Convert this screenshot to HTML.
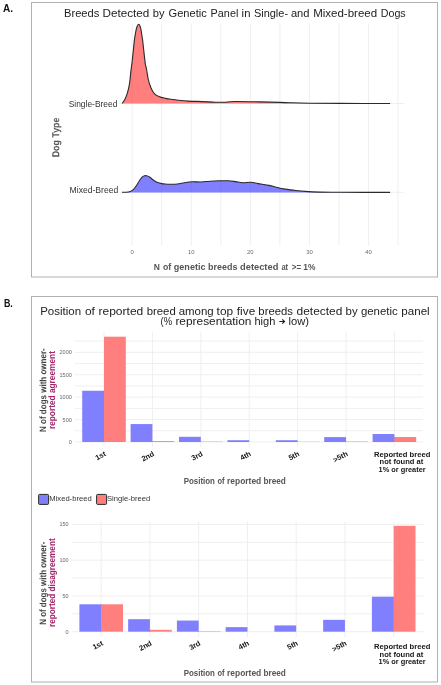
<!DOCTYPE html>
<html><head><meta charset="utf-8"><style>
html,body{margin:0;padding:0;background:#fff;width:441px;height:685px;overflow:hidden}
svg{display:block;font-family:"Liberation Sans",sans-serif;will-change:transform}
</style></head><body>
<svg width="441" height="685" viewBox="0 0 441 685">
<rect x="0" y="0" width="441" height="685" fill="#fff"/>
<text x="3.00" y="11.90" font-size="11.30" font-weight="bold" fill="#111" text-anchor="start" textLength="10.00" lengthAdjust="spacingAndGlyphs">A.</text>
<rect x="31.50" y="2.50" width="406.00" height="274.50" fill="none" stroke="#b0b0b0" stroke-width="1.00"/>
<text x="63.98" y="16.90" font-size="10.80" font-weight="normal" fill="#222" textLength="35.42" lengthAdjust="spacingAndGlyphs">Breeds</text>
<text x="102.44" y="16.90" font-size="10.80" font-weight="normal" fill="#222" textLength="46.81" lengthAdjust="spacingAndGlyphs">Detected</text>
<text x="152.78" y="16.90" font-size="10.80" font-weight="normal" fill="#222" textLength="11.74" lengthAdjust="spacingAndGlyphs">by</text>
<text x="168.54" y="16.90" font-size="10.80" font-weight="normal" fill="#222" textLength="38.25" lengthAdjust="spacingAndGlyphs">Genetic</text>
<text x="210.61" y="16.90" font-size="10.80" font-weight="normal" fill="#222" textLength="27.71" lengthAdjust="spacingAndGlyphs">Panel</text>
<text x="241.64" y="16.90" font-size="10.80" font-weight="normal" fill="#222" textLength="8.79" lengthAdjust="spacingAndGlyphs">in</text>
<text x="253.90" y="16.90" font-size="10.80" font-weight="normal" fill="#222" textLength="34.19" lengthAdjust="spacingAndGlyphs">Single-</text>
<text x="290.93" y="16.90" font-size="10.80" font-weight="normal" fill="#222" textLength="18.59" lengthAdjust="spacingAndGlyphs">and</text>
<text x="313.16" y="16.90" font-size="10.80" font-weight="normal" fill="#222" textLength="63.99" lengthAdjust="spacingAndGlyphs">Mixed-breed</text>
<text x="380.72" y="16.90" font-size="10.80" font-weight="normal" fill="#222" textLength="24.96" lengthAdjust="spacingAndGlyphs">Dogs</text>
<line x1="132.20" y1="23.50" x2="132.20" y2="245.50" stroke="#efefef" stroke-width="1.00"/>
<line x1="161.73" y1="23.50" x2="161.73" y2="245.50" stroke="#efefef" stroke-width="1.00"/>
<line x1="191.27" y1="23.50" x2="191.27" y2="245.50" stroke="#efefef" stroke-width="1.00"/>
<line x1="220.81" y1="23.50" x2="220.81" y2="245.50" stroke="#efefef" stroke-width="1.00"/>
<line x1="250.34" y1="23.50" x2="250.34" y2="245.50" stroke="#efefef" stroke-width="1.00"/>
<line x1="279.88" y1="23.50" x2="279.88" y2="245.50" stroke="#efefef" stroke-width="1.00"/>
<line x1="309.41" y1="23.50" x2="309.41" y2="245.50" stroke="#efefef" stroke-width="1.00"/>
<line x1="338.94" y1="23.50" x2="338.94" y2="245.50" stroke="#efefef" stroke-width="1.00"/>
<line x1="368.48" y1="23.50" x2="368.48" y2="245.50" stroke="#efefef" stroke-width="1.00"/>
<line x1="398.01" y1="23.50" x2="398.01" y2="245.50" stroke="#efefef" stroke-width="1.00"/>
<line x1="119.50" y1="103.50" x2="404.00" y2="103.50" stroke="#efefef" stroke-width="1.00"/>
<line x1="119.50" y1="192.30" x2="404.00" y2="192.30" stroke="#efefef" stroke-width="1.00"/>
<path d="M122.10,103.40 C122.55,102.75 123.90,101.28 124.80,99.50 C125.70,97.72 126.70,95.43 127.50,92.70 C128.30,89.97 129.03,86.73 129.60,83.10 C130.17,79.47 130.53,74.02 130.90,70.90 C131.27,67.78 131.53,66.53 131.80,64.40 C132.07,62.27 132.23,60.52 132.50,58.10 C132.77,55.68 133.10,52.77 133.40,49.90 C133.70,47.03 133.97,43.62 134.30,40.90 C134.63,38.18 134.98,35.87 135.40,33.60 C135.82,31.33 136.25,28.85 136.80,27.30 C137.35,25.75 138.08,24.30 138.70,24.30 C139.32,24.30 140.02,25.75 140.50,27.30 C140.98,28.85 141.23,31.33 141.60,33.60 C141.97,35.87 142.35,38.18 142.70,40.90 C143.05,43.62 143.38,47.03 143.70,49.90 C144.02,52.77 144.32,55.68 144.60,58.10 C144.88,60.52 145.07,62.50 145.40,64.40 C145.73,66.30 146.13,67.07 146.60,69.50 C147.07,71.93 147.52,76.05 148.20,79.00 C148.88,81.95 149.72,84.82 150.70,87.20 C151.68,89.58 152.75,91.75 154.10,93.30 C155.45,94.85 156.88,95.65 158.80,96.50 C160.72,97.35 163.33,97.90 165.60,98.40 C167.87,98.90 170.33,99.20 172.40,99.50 C174.47,99.80 175.30,99.93 178.00,100.20 C180.70,100.47 184.57,100.87 188.60,101.10 C192.63,101.33 197.67,101.42 202.20,101.60 C206.73,101.78 212.17,102.10 215.80,102.20 C219.43,102.30 220.80,102.32 224.00,102.20 C227.20,102.08 229.00,101.55 235.00,101.50 C241.00,101.45 252.50,101.75 260.00,101.90 C267.50,102.05 275.00,102.25 280.00,102.40 C285.00,102.55 285.00,102.67 290.00,102.80 C295.00,102.93 301.67,103.10 310.00,103.20 C318.33,103.30 326.65,103.35 340.00,103.40 C353.35,103.45 381.75,103.48 390.10,103.50 L390.1,103.60 L122,103.60 Z" fill="#ff0000" fill-opacity="0.5" stroke="none"/>
<path d="M122.10,103.40 C122.55,102.75 123.90,101.28 124.80,99.50 C125.70,97.72 126.70,95.43 127.50,92.70 C128.30,89.97 129.03,86.73 129.60,83.10 C130.17,79.47 130.53,74.02 130.90,70.90 C131.27,67.78 131.53,66.53 131.80,64.40 C132.07,62.27 132.23,60.52 132.50,58.10 C132.77,55.68 133.10,52.77 133.40,49.90 C133.70,47.03 133.97,43.62 134.30,40.90 C134.63,38.18 134.98,35.87 135.40,33.60 C135.82,31.33 136.25,28.85 136.80,27.30 C137.35,25.75 138.08,24.30 138.70,24.30 C139.32,24.30 140.02,25.75 140.50,27.30 C140.98,28.85 141.23,31.33 141.60,33.60 C141.97,35.87 142.35,38.18 142.70,40.90 C143.05,43.62 143.38,47.03 143.70,49.90 C144.02,52.77 144.32,55.68 144.60,58.10 C144.88,60.52 145.07,62.50 145.40,64.40 C145.73,66.30 146.13,67.07 146.60,69.50 C147.07,71.93 147.52,76.05 148.20,79.00 C148.88,81.95 149.72,84.82 150.70,87.20 C151.68,89.58 152.75,91.75 154.10,93.30 C155.45,94.85 156.88,95.65 158.80,96.50 C160.72,97.35 163.33,97.90 165.60,98.40 C167.87,98.90 170.33,99.20 172.40,99.50 C174.47,99.80 175.30,99.93 178.00,100.20 C180.70,100.47 184.57,100.87 188.60,101.10 C192.63,101.33 197.67,101.42 202.20,101.60 C206.73,101.78 212.17,102.10 215.80,102.20 C219.43,102.30 220.80,102.32 224.00,102.20 C227.20,102.08 229.00,101.55 235.00,101.50 C241.00,101.45 252.50,101.75 260.00,101.90 C267.50,102.05 275.00,102.25 280.00,102.40 C285.00,102.55 285.00,102.67 290.00,102.80 C295.00,102.93 301.67,103.10 310.00,103.20 C318.33,103.30 326.65,103.35 340.00,103.40 C353.35,103.45 381.75,103.48 390.10,103.50" fill="none" stroke="#2a2a2a" stroke-width="1.1"/>
<path d="M122.00,192.30 C122.68,192.28 124.73,192.35 126.10,192.20 C127.47,192.05 129.00,191.83 130.20,191.40 C131.40,190.97 132.28,190.53 133.30,189.60 C134.32,188.67 135.28,187.28 136.30,185.80 C137.32,184.32 138.47,182.12 139.40,180.70 C140.33,179.28 141.05,178.12 141.90,177.30 C142.75,176.48 143.73,176.07 144.50,175.80 C145.27,175.53 145.73,175.57 146.50,175.70 C147.27,175.83 148.25,176.10 149.10,176.60 C149.95,177.10 150.67,177.97 151.60,178.70 C152.53,179.43 153.67,180.35 154.70,181.00 C155.73,181.65 156.62,182.17 157.80,182.60 C158.98,183.03 160.60,183.37 161.80,183.60 C163.00,183.83 163.63,183.90 165.00,184.00 C166.37,184.10 167.95,184.20 170.00,184.20 C172.05,184.20 174.88,184.25 177.30,184.00 C179.72,183.75 182.08,183.07 184.50,182.70 C186.92,182.33 189.07,181.92 191.80,181.80 C194.53,181.68 197.88,182.10 200.90,182.00 C203.92,181.90 206.88,181.40 209.90,181.20 C212.92,181.00 215.97,180.87 219.00,180.80 C222.03,180.73 225.38,180.67 228.10,180.80 C230.82,180.93 232.88,181.28 235.30,181.60 C237.72,181.92 240.00,182.58 242.60,182.70 C245.20,182.82 248.32,182.15 250.90,182.30 C253.48,182.45 255.08,183.08 258.10,183.60 C261.12,184.12 265.97,184.80 269.00,185.40 C272.03,186.00 273.87,186.62 276.30,187.20 C278.73,187.78 280.58,188.38 283.60,188.90 C286.62,189.42 290.78,189.88 294.40,190.30 C298.02,190.72 301.03,191.10 305.30,191.40 C309.57,191.70 314.22,191.95 320.00,192.10 C325.78,192.25 328.32,192.25 340.00,192.30 C351.68,192.35 381.75,192.38 390.10,192.40 L390.1,192.50 L122,192.50 Z" fill="#0000ff" fill-opacity="0.5" stroke="none"/>
<path d="M122.00,192.30 C122.68,192.28 124.73,192.35 126.10,192.20 C127.47,192.05 129.00,191.83 130.20,191.40 C131.40,190.97 132.28,190.53 133.30,189.60 C134.32,188.67 135.28,187.28 136.30,185.80 C137.32,184.32 138.47,182.12 139.40,180.70 C140.33,179.28 141.05,178.12 141.90,177.30 C142.75,176.48 143.73,176.07 144.50,175.80 C145.27,175.53 145.73,175.57 146.50,175.70 C147.27,175.83 148.25,176.10 149.10,176.60 C149.95,177.10 150.67,177.97 151.60,178.70 C152.53,179.43 153.67,180.35 154.70,181.00 C155.73,181.65 156.62,182.17 157.80,182.60 C158.98,183.03 160.60,183.37 161.80,183.60 C163.00,183.83 163.63,183.90 165.00,184.00 C166.37,184.10 167.95,184.20 170.00,184.20 C172.05,184.20 174.88,184.25 177.30,184.00 C179.72,183.75 182.08,183.07 184.50,182.70 C186.92,182.33 189.07,181.92 191.80,181.80 C194.53,181.68 197.88,182.10 200.90,182.00 C203.92,181.90 206.88,181.40 209.90,181.20 C212.92,181.00 215.97,180.87 219.00,180.80 C222.03,180.73 225.38,180.67 228.10,180.80 C230.82,180.93 232.88,181.28 235.30,181.60 C237.72,181.92 240.00,182.58 242.60,182.70 C245.20,182.82 248.32,182.15 250.90,182.30 C253.48,182.45 255.08,183.08 258.10,183.60 C261.12,184.12 265.97,184.80 269.00,185.40 C272.03,186.00 273.87,186.62 276.30,187.20 C278.73,187.78 280.58,188.38 283.60,188.90 C286.62,189.42 290.78,189.88 294.40,190.30 C298.02,190.72 301.03,191.10 305.30,191.40 C309.57,191.70 314.22,191.95 320.00,192.10 C325.78,192.25 328.32,192.25 340.00,192.30 C351.68,192.35 381.75,192.38 390.10,192.40" fill="none" stroke="#2a2a2a" stroke-width="1.1"/>
<text x="68.72" y="106.90" font-size="9.00" font-weight="normal" fill="#333" textLength="48.62" lengthAdjust="spacingAndGlyphs">Single-Breed</text>
<text x="69.60" y="192.90" font-size="8.80" font-weight="normal" fill="#333" textLength="48.66" lengthAdjust="spacingAndGlyphs">Mixed-Breed</text>
<text x="0" y="0" font-size="10.20" font-weight="bold" fill="#555" textLength="39.68" lengthAdjust="spacingAndGlyphs" transform="translate(59.20,157.28) rotate(-89.9)">Dog Type</text>
<text x="132.20" y="254.10" font-size="5.90" font-weight="normal" fill="#6a6a6a" text-anchor="middle">0</text>
<text x="191.27" y="254.10" font-size="5.90" font-weight="normal" fill="#6a6a6a" text-anchor="middle">10</text>
<text x="250.34" y="254.10" font-size="5.90" font-weight="normal" fill="#6a6a6a" text-anchor="middle">20</text>
<text x="309.41" y="254.10" font-size="5.90" font-weight="normal" fill="#6a6a6a" text-anchor="middle">30</text>
<text x="368.48" y="254.10" font-size="5.90" font-weight="normal" fill="#6a6a6a" text-anchor="middle">40</text>
<text x="153.83" y="269.50" font-size="9.60" font-weight="bold" fill="#555" textLength="6.14" lengthAdjust="spacingAndGlyphs">N</text>
<text x="162.96" y="269.50" font-size="9.60" font-weight="bold" fill="#555" textLength="8.22" lengthAdjust="spacingAndGlyphs">of</text>
<text x="173.83" y="269.50" font-size="9.60" font-weight="bold" fill="#555" textLength="31.64" lengthAdjust="spacingAndGlyphs">genetic</text>
<text x="208.11" y="269.50" font-size="9.60" font-weight="bold" fill="#555" textLength="29.25" lengthAdjust="spacingAndGlyphs">breeds</text>
<text x="240.12" y="269.50" font-size="9.60" font-weight="bold" fill="#555" textLength="38.19" lengthAdjust="spacingAndGlyphs">detected</text>
<text x="281.38" y="269.50" font-size="9.60" font-weight="bold" fill="#555" textLength="6.71" lengthAdjust="spacingAndGlyphs">at</text>
<text x="291.86" y="269.50" font-size="9.60" font-weight="bold" fill="#555" textLength="9.37" lengthAdjust="spacingAndGlyphs">&gt;=</text>
<text x="303.37" y="269.50" font-size="9.60" font-weight="bold" fill="#555" textLength="12.15" lengthAdjust="spacingAndGlyphs">1%</text>
<text x="3.90" y="306.50" font-size="11.00" font-weight="bold" fill="#111" text-anchor="start" textLength="8.90" lengthAdjust="spacingAndGlyphs">B.</text>
<rect x="31.50" y="296.50" width="406.00" height="385.50" fill="none" stroke="#b0b0b0" stroke-width="1.00"/>
<text x="40.15" y="314.70" font-size="10.40" font-weight="normal" fill="#222" textLength="40.99" lengthAdjust="spacingAndGlyphs">Position</text>
<text x="84.90" y="314.70" font-size="10.40" font-weight="normal" fill="#222" textLength="9.99" lengthAdjust="spacingAndGlyphs">of</text>
<text x="98.50" y="314.70" font-size="10.40" font-weight="normal" fill="#222" textLength="44.77" lengthAdjust="spacingAndGlyphs">reported</text>
<text x="146.67" y="314.70" font-size="10.40" font-weight="normal" fill="#222" textLength="29.06" lengthAdjust="spacingAndGlyphs">breed</text>
<text x="178.71" y="314.70" font-size="10.40" font-weight="normal" fill="#222" textLength="35.02" lengthAdjust="spacingAndGlyphs">among</text>
<text x="216.62" y="314.70" font-size="10.40" font-weight="normal" fill="#222" textLength="16.48" lengthAdjust="spacingAndGlyphs">top</text>
<text x="236.83" y="314.70" font-size="10.40" font-weight="normal" fill="#222" textLength="18.39" lengthAdjust="spacingAndGlyphs">five</text>
<text x="258.37" y="314.70" font-size="10.40" font-weight="normal" fill="#222" textLength="34.54" lengthAdjust="spacingAndGlyphs">breeds</text>
<text x="296.60" y="314.70" font-size="10.40" font-weight="normal" fill="#222" textLength="45.77" lengthAdjust="spacingAndGlyphs">detected</text>
<text x="345.56" y="314.70" font-size="10.40" font-weight="normal" fill="#222" textLength="12.06" lengthAdjust="spacingAndGlyphs">by</text>
<text x="360.92" y="314.70" font-size="10.40" font-weight="normal" fill="#222" textLength="36.83" lengthAdjust="spacingAndGlyphs">genetic</text>
<text x="401.35" y="314.70" font-size="10.40" font-weight="normal" fill="#222" textLength="28.32" lengthAdjust="spacingAndGlyphs">panel</text>
<text x="160.62" y="325.20" font-size="10.40" font-weight="normal" fill="#222" textLength="11.52" lengthAdjust="spacingAndGlyphs">(%</text>
<text x="175.41" y="325.20" font-size="10.40" font-weight="normal" fill="#222" textLength="76.06" lengthAdjust="spacingAndGlyphs">representation</text>
<text x="254.43" y="325.20" font-size="10.40" font-weight="normal" fill="#222" textLength="20.88" lengthAdjust="spacingAndGlyphs">high</text>
<text x="288.54" y="325.20" font-size="10.40" font-weight="normal" fill="#222" textLength="20.55" lengthAdjust="spacingAndGlyphs">low)</text>
<path d="M279.3,321.5 H284.4 M282.3,319.3 L284.5,321.5 L282.3,323.7" fill="none" stroke="#222" stroke-width="1.2"/>
<line x1="74.70" y1="442.00" x2="423.00" y2="442.00" stroke="#efefef" stroke-width="1.00"/>
<line x1="74.70" y1="430.79" x2="423.00" y2="430.79" stroke="#efefef" stroke-width="1.00"/>
<line x1="74.70" y1="419.57" x2="423.00" y2="419.57" stroke="#efefef" stroke-width="1.00"/>
<line x1="74.70" y1="408.36" x2="423.00" y2="408.36" stroke="#efefef" stroke-width="1.00"/>
<line x1="74.70" y1="397.15" x2="423.00" y2="397.15" stroke="#efefef" stroke-width="1.00"/>
<line x1="74.70" y1="385.94" x2="423.00" y2="385.94" stroke="#efefef" stroke-width="1.00"/>
<line x1="74.70" y1="374.73" x2="423.00" y2="374.73" stroke="#efefef" stroke-width="1.00"/>
<line x1="74.70" y1="363.51" x2="423.00" y2="363.51" stroke="#efefef" stroke-width="1.00"/>
<line x1="74.70" y1="352.30" x2="423.00" y2="352.30" stroke="#efefef" stroke-width="1.00"/>
<line x1="74.70" y1="341.09" x2="423.00" y2="341.09" stroke="#efefef" stroke-width="1.00"/>
<line x1="104.00" y1="331.40" x2="104.00" y2="447.00" stroke="#efefef" stroke-width="1.00"/>
<line x1="152.40" y1="331.40" x2="152.40" y2="447.00" stroke="#efefef" stroke-width="1.00"/>
<line x1="200.80" y1="331.40" x2="200.80" y2="447.00" stroke="#efefef" stroke-width="1.00"/>
<line x1="249.20" y1="331.40" x2="249.20" y2="447.00" stroke="#efefef" stroke-width="1.00"/>
<line x1="297.60" y1="331.40" x2="297.60" y2="447.00" stroke="#efefef" stroke-width="1.00"/>
<line x1="346.00" y1="331.40" x2="346.00" y2="447.00" stroke="#efefef" stroke-width="1.00"/>
<line x1="394.40" y1="331.40" x2="394.40" y2="447.00" stroke="#efefef" stroke-width="1.00"/>
<rect x="82.20" y="390.74" width="21.80" height="51.26" fill="#8080ff"/>
<rect x="103.50" y="390.74" width="1.00" height="51.26" fill="#8080ff"/>
<rect x="104.00" y="336.69" width="21.80" height="105.31" fill="#ff7f7f"/>
<rect x="130.60" y="424.06" width="21.80" height="17.94" fill="#8080ff"/>
<rect x="151.90" y="441.10" width="1.00" height="0.90" fill="#8080ff"/>
<rect x="152.40" y="441.10" width="21.80" height="0.90" fill="#ff7f7f"/>
<rect x="179.00" y="436.80" width="21.80" height="5.20" fill="#8080ff"/>
<rect x="200.30" y="441.64" width="1.00" height="0.36" fill="#8080ff"/>
<rect x="200.80" y="441.64" width="21.80" height="0.36" fill="#ff7f7f"/>
<rect x="227.40" y="440.21" width="21.80" height="1.79" fill="#8080ff"/>
<rect x="275.80" y="440.21" width="21.80" height="1.79" fill="#8080ff"/>
<rect x="297.10" y="441.78" width="1.00" height="0.22" fill="#8080ff"/>
<rect x="297.60" y="441.78" width="21.80" height="0.22" fill="#ff7f7f"/>
<rect x="324.20" y="437.11" width="21.80" height="4.89" fill="#8080ff"/>
<rect x="345.50" y="441.55" width="1.00" height="0.45" fill="#8080ff"/>
<rect x="346.00" y="441.55" width="21.80" height="0.45" fill="#ff7f7f"/>
<rect x="372.60" y="434.02" width="21.80" height="7.98" fill="#8080ff"/>
<rect x="393.90" y="437.02" width="1.00" height="4.98" fill="#8080ff"/>
<rect x="394.40" y="437.02" width="21.80" height="4.98" fill="#ff7f7f"/>
<text x="71.80" y="444.00" font-size="5.50" font-weight="normal" fill="#666" text-anchor="end">0</text>
<text x="71.80" y="421.57" font-size="5.50" font-weight="normal" fill="#666" text-anchor="end">500</text>
<text x="71.80" y="399.15" font-size="5.50" font-weight="normal" fill="#666" text-anchor="end">1000</text>
<text x="71.80" y="376.73" font-size="5.50" font-weight="normal" fill="#666" text-anchor="end">1500</text>
<text x="71.80" y="354.30" font-size="5.50" font-weight="normal" fill="#666" text-anchor="end">2000</text>
<text x="0" y="0" font-size="7.4" font-weight="bold" fill="#111" text-anchor="end" transform="translate(106.40,455.40) rotate(-28)">1st</text>
<text x="0" y="0" font-size="7.4" font-weight="bold" fill="#111" text-anchor="end" transform="translate(154.80,455.40) rotate(-28)">2nd</text>
<text x="0" y="0" font-size="7.4" font-weight="bold" fill="#111" text-anchor="end" transform="translate(203.20,455.40) rotate(-28)">3rd</text>
<text x="0" y="0" font-size="7.4" font-weight="bold" fill="#111" text-anchor="end" transform="translate(251.60,455.40) rotate(-28)">4th</text>
<text x="0" y="0" font-size="7.4" font-weight="bold" fill="#111" text-anchor="end" transform="translate(300.00,455.40) rotate(-28)">5th</text>
<text x="0" y="0" font-size="7.4" font-weight="bold" fill="#111" text-anchor="end" transform="translate(348.40,455.40) rotate(-28)">&gt;5th</text>
<line x1="71.60" y1="631.70" x2="423.30" y2="631.70" stroke="#efefef" stroke-width="1.00"/>
<line x1="71.60" y1="613.82" x2="423.30" y2="613.82" stroke="#efefef" stroke-width="1.00"/>
<line x1="71.60" y1="595.94" x2="423.30" y2="595.94" stroke="#efefef" stroke-width="1.00"/>
<line x1="71.60" y1="578.05" x2="423.30" y2="578.05" stroke="#efefef" stroke-width="1.00"/>
<line x1="71.60" y1="560.17" x2="423.30" y2="560.17" stroke="#efefef" stroke-width="1.00"/>
<line x1="71.60" y1="542.29" x2="423.30" y2="542.29" stroke="#efefef" stroke-width="1.00"/>
<line x1="71.60" y1="524.41" x2="423.30" y2="524.41" stroke="#efefef" stroke-width="1.00"/>
<line x1="101.20" y1="521.40" x2="101.20" y2="637.00" stroke="#efefef" stroke-width="1.00"/>
<line x1="149.95" y1="521.40" x2="149.95" y2="637.00" stroke="#efefef" stroke-width="1.00"/>
<line x1="198.70" y1="521.40" x2="198.70" y2="637.00" stroke="#efefef" stroke-width="1.00"/>
<line x1="247.45" y1="521.40" x2="247.45" y2="637.00" stroke="#efefef" stroke-width="1.00"/>
<line x1="296.20" y1="521.40" x2="296.20" y2="637.00" stroke="#efefef" stroke-width="1.00"/>
<line x1="344.95" y1="521.40" x2="344.95" y2="637.00" stroke="#efefef" stroke-width="1.00"/>
<line x1="393.70" y1="521.40" x2="393.70" y2="637.00" stroke="#efefef" stroke-width="1.00"/>
<rect x="79.40" y="604.30" width="21.80" height="27.40" fill="#8080ff"/>
<rect x="100.70" y="604.30" width="1.00" height="27.40" fill="#8080ff"/>
<rect x="101.20" y="604.30" width="21.80" height="27.40" fill="#ff7f7f"/>
<rect x="128.15" y="619.18" width="21.80" height="12.52" fill="#8080ff"/>
<rect x="149.45" y="629.84" width="1.00" height="1.86" fill="#8080ff"/>
<rect x="149.95" y="629.84" width="21.80" height="1.86" fill="#ff7f7f"/>
<rect x="176.90" y="620.54" width="21.80" height="11.16" fill="#8080ff"/>
<rect x="198.20" y="631.27" width="1.00" height="0.43" fill="#8080ff"/>
<rect x="198.70" y="631.27" width="21.80" height="0.43" fill="#ff7f7f"/>
<rect x="225.65" y="627.12" width="21.80" height="4.58" fill="#8080ff"/>
<rect x="274.40" y="625.41" width="21.80" height="6.29" fill="#8080ff"/>
<rect x="323.15" y="619.83" width="21.80" height="11.87" fill="#8080ff"/>
<rect x="371.90" y="596.72" width="21.80" height="34.98" fill="#8080ff"/>
<rect x="393.20" y="596.72" width="1.00" height="34.98" fill="#8080ff"/>
<rect x="393.70" y="525.84" width="21.80" height="105.86" fill="#ff7f7f"/>
<text x="68.60" y="633.70" font-size="5.50" font-weight="normal" fill="#666" text-anchor="end">0</text>
<text x="68.60" y="597.94" font-size="5.50" font-weight="normal" fill="#666" text-anchor="end">50</text>
<text x="68.60" y="562.17" font-size="5.50" font-weight="normal" fill="#666" text-anchor="end">100</text>
<text x="68.60" y="526.41" font-size="5.50" font-weight="normal" fill="#666" text-anchor="end">150</text>
<text x="0" y="0" font-size="7.4" font-weight="bold" fill="#111" text-anchor="end" transform="translate(103.60,644.80) rotate(-28)">1st</text>
<text x="0" y="0" font-size="7.4" font-weight="bold" fill="#111" text-anchor="end" transform="translate(152.35,644.80) rotate(-28)">2nd</text>
<text x="0" y="0" font-size="7.4" font-weight="bold" fill="#111" text-anchor="end" transform="translate(201.10,644.80) rotate(-28)">3rd</text>
<text x="0" y="0" font-size="7.4" font-weight="bold" fill="#111" text-anchor="end" transform="translate(249.85,644.80) rotate(-28)">4th</text>
<text x="0" y="0" font-size="7.4" font-weight="bold" fill="#111" text-anchor="end" transform="translate(298.60,644.80) rotate(-28)">5th</text>
<text x="0" y="0" font-size="7.4" font-weight="bold" fill="#111" text-anchor="end" transform="translate(347.35,644.80) rotate(-28)">&gt;5th</text>
<text x="373.99" y="456.80" font-size="7.20" font-weight="bold" fill="#161616" textLength="56.31" lengthAdjust="spacingAndGlyphs">Reported breed</text>
<text x="379.60" y="464.30" font-size="7.20" font-weight="bold" fill="#161616" textLength="43.59" lengthAdjust="spacingAndGlyphs">not found at</text>
<text x="378.54" y="471.80" font-size="7.20" font-weight="bold" fill="#161616" textLength="47.08" lengthAdjust="spacingAndGlyphs">1% or greater</text>
<text x="373.99" y="648.90" font-size="7.20" font-weight="bold" fill="#161616" textLength="56.31" lengthAdjust="spacingAndGlyphs">Reported breed</text>
<text x="379.60" y="656.50" font-size="7.20" font-weight="bold" fill="#161616" textLength="43.59" lengthAdjust="spacingAndGlyphs">not found at</text>
<text x="378.54" y="664.00" font-size="7.20" font-weight="bold" fill="#161616" textLength="47.08" lengthAdjust="spacingAndGlyphs">1% or greater</text>
<text x="183.67" y="483.50" font-size="8.40" font-weight="bold" fill="#555" textLength="31.32" lengthAdjust="spacingAndGlyphs">Position</text>
<text x="217.51" y="483.50" font-size="8.40" font-weight="bold" fill="#555" textLength="7.08" lengthAdjust="spacingAndGlyphs">of</text>
<text x="227.04" y="483.50" font-size="8.40" font-weight="bold" fill="#555" textLength="34.21" lengthAdjust="spacingAndGlyphs">reported</text>
<text x="263.46" y="483.50" font-size="8.40" font-weight="bold" fill="#555" textLength="22.38" lengthAdjust="spacingAndGlyphs">breed</text>
<text x="183.67" y="675.80" font-size="8.40" font-weight="bold" fill="#555" textLength="31.32" lengthAdjust="spacingAndGlyphs">Position</text>
<text x="217.51" y="675.80" font-size="8.40" font-weight="bold" fill="#555" textLength="7.08" lengthAdjust="spacingAndGlyphs">of</text>
<text x="227.04" y="675.80" font-size="8.40" font-weight="bold" fill="#555" textLength="34.21" lengthAdjust="spacingAndGlyphs">reported</text>
<text x="263.46" y="675.80" font-size="8.40" font-weight="bold" fill="#555" textLength="22.38" lengthAdjust="spacingAndGlyphs">breed</text>
<text x="0" y="0" font-size="9.20" font-weight="bold" fill="#444" textLength="83.66" lengthAdjust="spacingAndGlyphs" transform="translate(46.10,431.94) rotate(-89.9)">N of dogs with owner-</text>
<text x="0" y="0" font-size="9.20" font-weight="bold" fill="#a0276a" textLength="77.95" lengthAdjust="spacingAndGlyphs" transform="translate(54.90,429.05) rotate(-89.9)">reported agreement</text>
<text x="0" y="0" font-size="9.20" font-weight="bold" fill="#444" textLength="83.15" lengthAdjust="spacingAndGlyphs" transform="translate(46.10,624.83) rotate(-89.9)">N of dogs with owner-</text>
<text x="0" y="0" font-size="9.20" font-weight="bold" fill="#a0276a" textLength="88.54" lengthAdjust="spacingAndGlyphs" transform="translate(54.90,626.94) rotate(-89.9)">reported disagreement</text>
<rect x="38.6" y="494.4" width="10" height="10" rx="1" fill="#8080ff" stroke="#2a2a2a" stroke-width="1"/>
<text x="49.27" y="501.30" font-size="7.40" font-weight="normal" fill="#333" textLength="42.42" lengthAdjust="spacingAndGlyphs">Mixed-breed</text>
<rect x="96.6" y="494.4" width="10" height="10" rx="1" fill="#ff7f7f" stroke="#2a2a2a" stroke-width="1"/>
<text x="106.95" y="501.30" font-size="7.40" font-weight="normal" fill="#333" textLength="43.34" lengthAdjust="spacingAndGlyphs">Single-breed</text>
</svg>
</body></html>
